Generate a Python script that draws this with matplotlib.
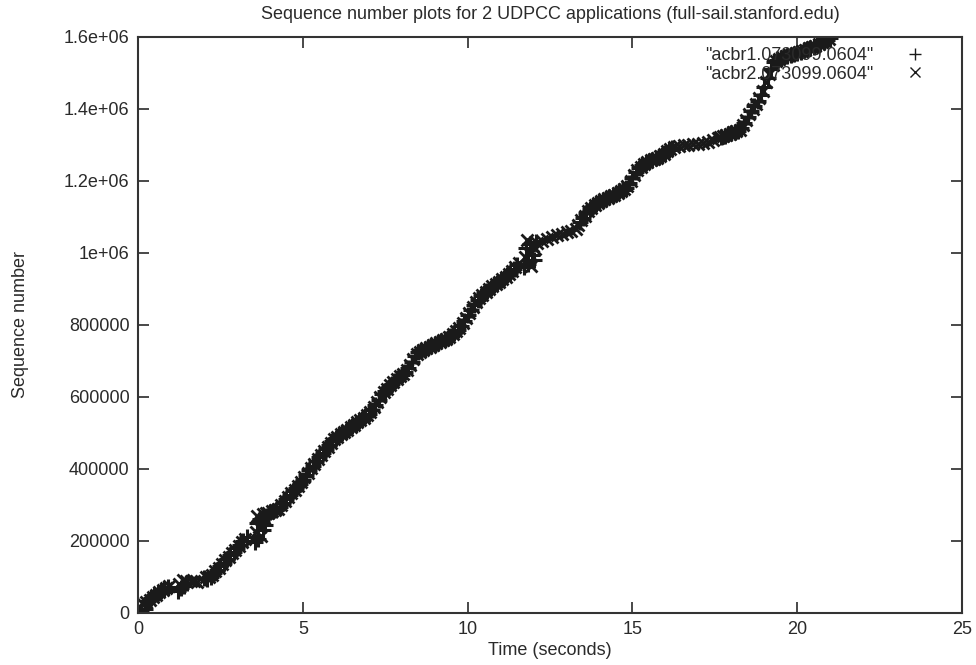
import matplotlib
matplotlib.use("Agg")
import matplotlib.pyplot as plt
from matplotlib.ticker import FixedLocator, FixedFormatter

plt.rcParams['font.family'] = ['Liberation Sans', 'DejaVu Sans']

# series 1: acbr1 (+), time in seconds, sequence number in thousands
t1 = [0.0, 0.1, 0.2, 0.3, 0.4, 0.5, 0.6, 0.7, 0.8, 0.9,
      1.2, 1.3, 1.4, 1.5,
      2.0, 2.1, 2.2, 2.3, 2.4, 2.5, 2.6, 2.7, 2.8, 2.9, 3.0, 3.1, 3.2, 3.3,
      3.55, 3.60, 3.65, 3.70, 3.75, 3.80, 3.85, 3.90,
      4.0, 4.1, 4.2, 4.3, 4.4, 4.5, 4.6, 4.7, 4.8, 4.9,
      5.0, 5.1, 5.2, 5.3, 5.4, 5.5, 5.6, 5.7, 5.8, 5.9,
      6.0, 6.1, 6.2, 6.3, 6.4, 6.5, 6.6, 6.7, 6.8, 6.9,
      7.0, 7.1, 7.2, 7.3, 7.4, 7.5, 7.6, 7.7, 7.8, 7.9,
      8.0, 8.1, 8.2, 8.3, 8.4, 8.5, 8.6, 8.7, 8.8, 8.9,
      9.0, 9.1, 9.2, 9.3, 9.4, 9.5, 9.6, 9.7, 9.8, 9.9,
      10.0, 10.1, 10.2, 10.3, 10.4, 10.5, 10.6, 10.7, 10.8, 10.9,
      11.0, 11.1, 11.2, 11.3, 11.4, 11.5,
      11.70, 11.76, 11.82, 11.88, 11.94, 12.00, 12.06,
      13.4, 13.5, 13.6, 13.7, 13.8, 13.9,
      14.0, 14.1, 14.2, 14.3, 14.4, 14.5, 14.6, 14.7, 14.8, 14.9,
      15.0, 15.1, 15.2, 15.3, 15.4, 15.5, 15.6, 15.7, 15.8, 15.9,
      16.0, 16.1, 16.2,
      17.7, 17.8, 17.9, 18.0, 18.1, 18.2, 18.3, 18.4, 18.5, 18.6, 18.7, 18.8, 18.9,
      19.0, 19.1, 19.2, 19.3, 19.4, 19.5, 19.6, 19.7, 19.8, 19.9,
      20.0, 20.1, 20.2, 20.3, 20.4, 20.5, 20.6, 20.7, 20.8, 20.9, 21.0]
s1 = [2, 6, 12, 34, 42, 49, 55, 61, 67, 72,
      62, 70, 76, 84,
      96, 94, 100, 110, 120, 130, 140, 150, 160, 170, 180, 190, 200, 211,
      196, 250, 205, 262, 255, 230, 245, 270,
      280, 283, 286, 295, 305, 316, 328, 338, 348, 359,
      370, 383, 396, 409, 421, 433, 444, 455, 466, 478,
      487, 494, 500, 506, 513, 520, 526, 533, 540, 546,
      553, 564, 578, 593, 607, 618, 627, 636, 645, 653,
      661, 670, 681, 697, 713, 724, 728, 733, 738, 742,
      747, 751, 755, 760, 764, 770, 779, 787, 798, 812,
      827, 842, 856, 869, 880, 888, 895, 903, 910, 917,
      924, 931, 938, 945, 956, 966,
      962, 1015, 970, 1025, 995, 980, 1030,
      1085, 1098, 1110, 1121, 1130, 1137,
      1142, 1147, 1151, 1155, 1160, 1165, 1171, 1176, 1181, 1193,
      1208, 1224, 1236, 1244, 1250, 1255, 1259, 1263, 1266, 1271,
      1279, 1286, 1292,
      1323, 1326, 1330, 1333, 1337, 1340, 1348, 1362, 1378, 1393, 1408, 1422, 1440,
      1462, 1486, 1510, 1530, 1535, 1541, 1545, 1548, 1551, 1553,
      1556, 1559, 1563, 1567, 1570, 1573, 1577, 1582, 1587, 1592, 1597]

# series 2: acbr2 (x)
t2 = [0.05, 0.15, 0.25, 0.35, 0.45, 0.55, 0.65, 0.75, 0.85, 0.95,
      1.25, 1.35, 1.45, 1.6, 1.7, 1.8,
      2.05, 2.15, 2.25, 2.35, 2.45, 2.55, 2.65, 2.75, 2.85, 2.95, 3.05, 3.15, 3.25,
      3.58, 3.62, 3.68, 3.72, 3.78, 3.82, 3.88,
      3.95, 4.05, 4.15, 4.25, 4.35, 4.45, 4.55, 4.65, 4.75, 4.85, 4.95,
      5.05, 5.15, 5.25, 5.35, 5.45, 5.55, 5.65, 5.75, 5.85, 5.95,
      6.05, 6.15, 6.25, 6.35, 6.45, 6.55, 6.65, 6.75, 6.85, 6.95,
      7.05, 7.15, 7.25, 7.35, 7.45, 7.55, 7.65, 7.75, 7.85, 7.95,
      8.05, 8.15, 8.25, 8.35, 8.45, 8.55, 8.65, 8.75, 8.85, 8.95,
      9.05, 9.15, 9.25, 9.35, 9.45, 9.55, 9.65, 9.75, 9.85, 9.95,
      10.05, 10.15, 10.25, 10.35, 10.45, 10.55, 10.65, 10.75, 10.85, 10.95,
      11.05, 11.15, 11.25, 11.35, 11.45, 11.55,
      11.73, 11.79, 11.85, 11.91, 11.97, 12.03,
      12.1, 12.25, 12.4, 12.55, 12.7, 12.85, 13.0, 13.15, 13.3,
      13.35, 13.45, 13.55, 13.65, 13.75, 13.85, 13.95,
      14.05, 14.15, 14.25, 14.35, 14.45, 14.55, 14.65, 14.75, 14.85, 14.95,
      15.05, 15.15, 15.25, 15.35, 15.45, 15.55, 15.65, 15.75, 15.85, 15.95,
      16.05, 16.15, 16.25,
      16.4, 16.55, 16.7, 16.85, 17.0, 17.15, 17.3, 17.45, 17.6,
      17.65, 17.75, 17.85, 17.95, 18.05, 18.15, 18.25, 18.35, 18.45, 18.55,
      18.65, 18.75, 18.85, 18.95, 19.05, 19.15, 19.25, 19.35, 19.45, 19.55,
      19.65, 19.75, 19.85, 19.95, 20.05, 20.15, 20.25, 20.35, 20.45, 20.55,
      20.65, 20.75, 20.85, 20.95]
s2 = [14, 24, 30, 36, 44, 51, 57, 63, 69, 75,
      80, 92, 88, 88, 90, 87,
      99, 101, 106, 116, 126, 136, 146, 156, 166, 176, 186, 196, 206,
      225, 270, 240, 215, 275, 265, 278,
      279, 282, 285, 289, 300, 311, 322, 333, 343, 353, 364,
      377, 390, 402, 415, 427, 439, 450, 461, 472, 482,
      490, 497, 503, 509, 516, 523, 530, 537, 543, 550,
      558, 571, 586, 600, 613, 623, 632, 641, 649, 657,
      665, 675, 689, 705, 720, 726, 731, 736, 740, 745,
      749, 753, 758, 762, 767, 775, 783, 792, 805, 820,
      834, 849, 863, 875, 884, 892, 899, 907, 914, 920,
      927, 934, 942, 950, 961, 972,
      990, 1035, 1000, 965, 1020, 1010,
      1028, 1033, 1039, 1044, 1049, 1054, 1058, 1062, 1068,
      1078, 1092, 1104, 1116, 1126, 1134, 1140,
      1144, 1149, 1153, 1157, 1162, 1168, 1173, 1178, 1186, 1200,
      1216, 1231, 1240, 1247, 1253, 1257, 1261, 1265, 1268, 1275,
      1283, 1289, 1294,
      1297, 1299, 1300, 1302, 1304, 1306, 1309, 1314, 1320,
      1321, 1324, 1328, 1331, 1335, 1338, 1342, 1355, 1370, 1386,
      1400, 1415, 1430, 1451, 1474, 1498, 1521, 1533, 1538, 1543,
      1547, 1550, 1552, 1555, 1557, 1561, 1565, 1569, 1572, 1575,
      1580, 1585, 1590, 1595]

label1 = '"acbr1.073099.0604"'
label2 = '"acbr2.073099.0604"'

yticks = [0, 200000, 400000, 600000, 800000, 1000000, 1200000, 1400000, 1600000]
ytick_labels = ["0", "200000", "400000", "600000", "800000", "1e+06", "1.2e+06", "1.4e+06", "1.6e+06"]
xticks = [0, 5, 10, 15, 20, 25]

ink = '#1a1a1a'
text_col = '#2a2a2a'

fig = plt.figure(figsize=(9.76, 6.65), dpi=100)
ax = fig.add_axes([0.1414, 0.0782, 0.8443, 0.8662])

ax.plot(t1, [v * 1000 for v in s1], linestyle='none', marker='+', ms=12, mew=2.2,
        color=ink, label=label1)
ax.plot(t2, [v * 1000 for v in s2], linestyle='none', marker='x', ms=9, mew=2.0,
        color=ink, label=label2)

ax.set_xlim(0, 25)
ax.set_ylim(0, 1600000)
ax.xaxis.set_major_locator(FixedLocator(xticks))
ax.yaxis.set_major_locator(FixedLocator(yticks))
ax.yaxis.set_major_formatter(FixedFormatter(ytick_labels))
ax.tick_params(direction='in', length=8, width=1.2, top=True, right=True,
               labelsize=13, colors=text_col, pad=6)
for sp in ax.spines.values():
    sp.set_linewidth(1.5)
    sp.set_color('#333333')

ax.set_xlabel('Time (seconds)', fontsize=13, color=text_col, labelpad=3)
ax.set_ylabel('Sequence number', fontsize=13, color=text_col, labelpad=25)
ax.set_title('Sequence number plots for 2 UDPCC applications (full-sail.stanford.edu)',
             fontsize=13, color=text_col, pad=13)

leg = ax.legend(loc='upper right', frameon=False, markerfirst=False, fontsize=13,
                handlelength=1.5, handletextpad=1.6, borderaxespad=0.15,
                labelspacing=0.1, markerscale=0.75, bbox_to_anchor=(0.972, 1.0))
for txt in leg.get_texts():
    txt.set_color(text_col)
for h in leg.legend_handles:
    h.set_markeredgewidth(1.0)

fig.savefig('out.png', dpi=100)
